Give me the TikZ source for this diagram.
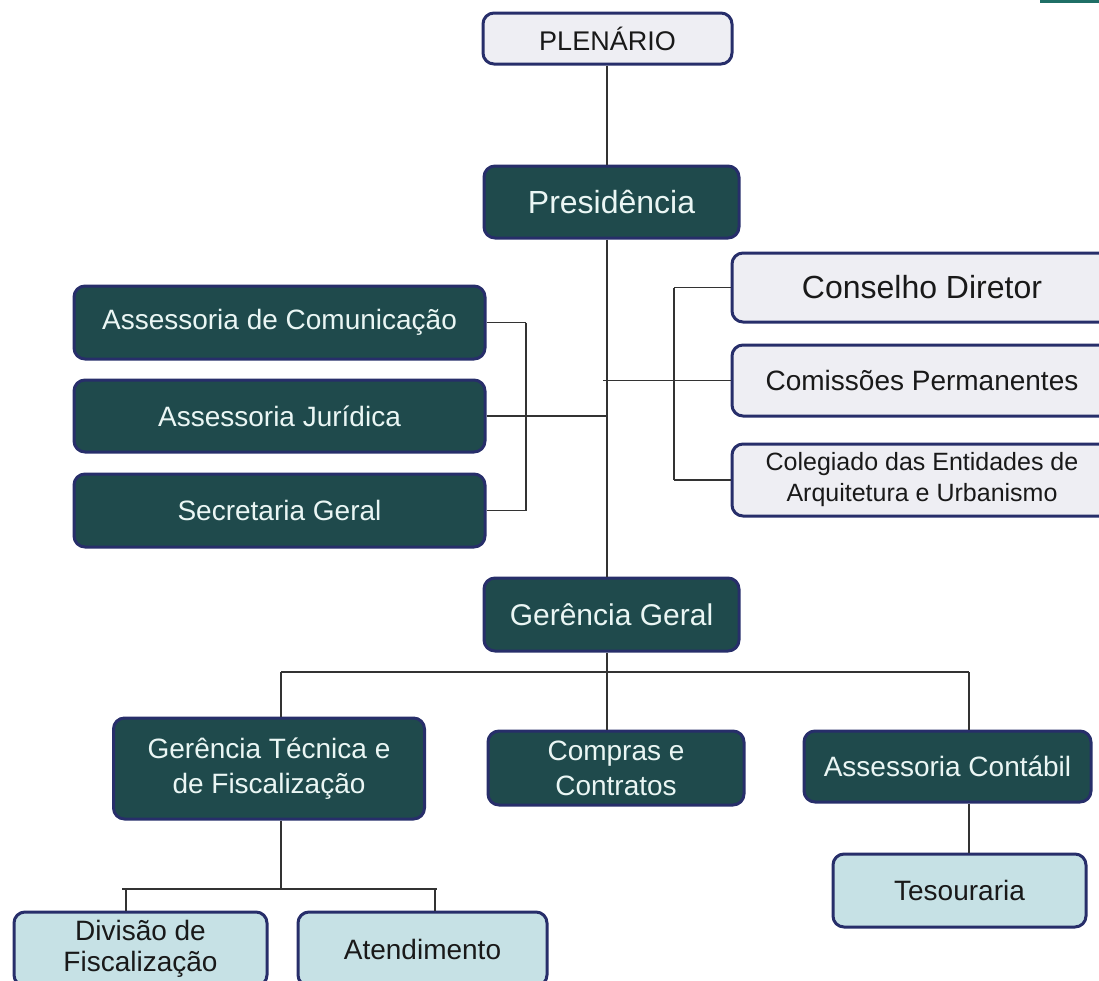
\documentclass[tikz,border=0pt]{standalone}
\usepackage{fontspec}
\setmainfont{Liberation Sans}
\definecolor{boxdark}{HTML}{1F4A4C}
\definecolor{boxline}{HTML}{272E6A}
\definecolor{boxlight}{HTML}{EEEEF3}
\definecolor{boxblue}{HTML}{C6E1E5}
\definecolor{boxtext}{HTML}{EAF6F4}
\definecolor{linkgray}{HTML}{333333}
\definecolor{cornerteal}{HTML}{1F6F66}
\tikzset{
	orgbox/.style={rectangle, rounded corners=11pt, draw=boxline, line width=3pt, inner sep=0pt, align=center, font=\fontsize{28}{35}\selectfont},
	darkbox/.style={orgbox, fill=boxdark, text=boxtext},
	lightbox/.style={orgbox, fill=boxlight, text=black!90},
	bluebox/.style={orgbox, fill=boxblue, text=black!90}
}
\begin{document}
\begin{tikzpicture}[x=1pt, y=-1pt]
	\useasboundingbox (0,0) rectangle (1099,980);
	\clip (0,0) rectangle (1099,980);
	\fill[cornerteal] (1040,0) rectangle (1099,3);
	\begin{scope}[every node/.style={lightbox}]
		\node[minimum width=249pt, minimum height=51pt, font=\fontsize{27}{32}\selectfont] (plen) at (607.5,38.5) {PLENÁRIO};
		\node[minimum width=380pt, minimum height=69pt, font=\fontsize{32}{38}\selectfont] (cons) at (922,287.5) {Conselho Diretor};
		\node[minimum width=380pt, minimum height=71pt] (com) at (922,380.5) {Comissões Permanentes};
		\node[minimum width=380pt, minimum height=72pt, font=\fontsize{25}{31}\selectfont] (coleg) at (922,480) {Colegiado das Entidades de\\Arquitetura e Urbanismo};
	\end{scope}
	\begin{scope}[every node/.style={darkbox}]
		\node[minimum width=255pt, minimum height=72pt, font=\fontsize{32}{38}\selectfont] (pres) at (611.5,202) {Presidência};
		\node[minimum width=411pt, minimum height=73pt] (acom) at (279.5,322.5) {Assessoria de Comunicação};
		\node[minimum width=411pt, minimum height=72pt] (ajur) at (279.5,416) {Assessoria Jurídica};
		\node[minimum width=411pt, minimum height=73pt] (sec) at (279.5,510.5) {Secretaria Geral};
		\node[minimum width=255pt, minimum height=73pt, font=\fontsize{30}{36}\selectfont] (gg) at (611.5,614.5) {Gerência Geral};
		\node[minimum width=311pt, minimum height=101pt] (gtec) at (269,768.5) {Gerência Técnica e\\de Fiscalização};
		\node[minimum width=256pt, minimum height=74pt] (comp) at (616,768) {Compras e\\Contratos};
		\node[minimum width=287pt, minimum height=71pt] (acont) at (947.5,766.5) {Assessoria Contábil};
	\end{scope}
	\begin{scope}[every node/.style={bluebox}]
		\node[minimum width=253pt, minimum height=73pt] (tes) at (959.5,890.5) {Tesouraria};
		\node[minimum width=253pt, minimum height=74pt, font=\fontsize{28}{31}\selectfont] (div) at (140.5,949) {Divisão de\\Fiscalização};
		\node[minimum width=249pt, minimum height=74pt] (atend) at (422.5,949) {Atendimento};
	\end{scope}
	% junction points
	\coordinate (tr) at (607,0);
	\coordinate (bl) at (526,0);
	\coordinate (br) at (674,0);
	\coordinate (rs) at (603,380.5);
	\coordinate (ht) at (281,672);
	\coordinate (ha) at (969,672);
	\coordinate (hd) at (0,889);
	\coordinate (dl) at (122,889);
	\coordinate (dr) at (437,889);
	\coordinate (dv) at (126,889);
	\coordinate (av) at (435,889);
	\begin{scope}[every edge/.style={draw=linkgray, line width=1.4pt}]
		\path (plen.south -| tr) edge (pres.north -| tr);
		\path (pres.south -| tr) edge (gg.north -| tr);
		\path (acom.east) edge (acom.east -| bl);
		\path (acom.east -| bl) edge (sec.east -| bl);
		\path (sec.east) edge (sec.east -| bl);
		\path (ajur.east) edge (ajur.east -| tr);
		\path (rs) edge (com.west);
		\path (cons.west -| br) edge (coleg.west -| br);
		\path (cons.west -| br) edge (cons.west);
		\path (coleg.west -| br) edge (coleg.west);
	\end{scope}
	\begin{scope}[every edge/.style={draw=linkgray, line width=1.4pt}]
		\path (gg.south -| tr) edge (comp.north -| tr);
		\path (ht) edge (ha);
		\path (ht) edge (ht |- gtec.north);
		\path (ha) edge (ha |- acont.north);
		\path (ha |- acont.south) edge (ha |- tes.north);
		\path (ht |- gtec.south) edge (ht |- hd);
		\path (dl) edge (dr);
		\path (dv) edge (dv |- div.north);
		\path (av) edge (av |- atend.north);
	\end{scope}
\end{tikzpicture}
\end{document}
